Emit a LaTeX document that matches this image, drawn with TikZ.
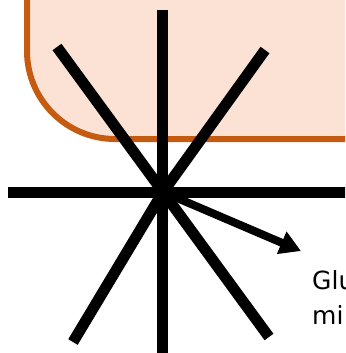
\documentclass[tikz,border=0pt]{standalone}
\usepackage{fontspec}
\setmainfont{DejaVu Sans}
\usetikzlibrary{arrows.meta}
\definecolor{boxfill}{HTML}{FBE2D4}
\definecolor{boxline}{HTML}{C55A11}
\tikzset{
  ray/.style={line width=11pt, black},
  pointer/.style={line width=8pt, black, -{Triangle[length=21pt,width=23pt]}},
  lbl/.style={anchor=base west, inner sep=0pt, font=\fontsize{25pt}{30pt}\selectfont}
}
\begin{document}
\begin{tikzpicture}[x=1pt,y=-1pt]
\useasboundingbox (0,0) rectangle (345,353);
\clip (0,0) rectangle (345,353);
\draw[fill=boxfill, draw=boxline, line width=6pt]
  (27,-20) -- (27,51) .. controls (27,99.6) and (66.4,139) .. (115,139) -- (360,139) -- (360,-20) -- cycle;
\coordinate (c) at (163,192);
\coordinate (top) at (162,10);
\coordinate (bot) at (162,360);
\coordinate (left) at (8,192);
\coordinate (right) at (360,192);
\coordinate (ul) at (57,47);
\coordinate (lr) at (269,337);
\coordinate (ur) at (265,50);
\coordinate (ll) at (73,342);
\coordinate (tip) at (301,251);
\draw[ray] (top) -- (bot);
\draw[ray] (left) -- (right);
\draw[ray] (ul) -- (c) -- (lr);
\draw[ray] (ur) -- (c) -- (ll);
\draw[pointer] (c) -- (tip);
\node[lbl] (t1) at (312,289) {Glu};
\node[lbl] (t2) at (312,324) {mi};
\end{tikzpicture}
\end{document}
